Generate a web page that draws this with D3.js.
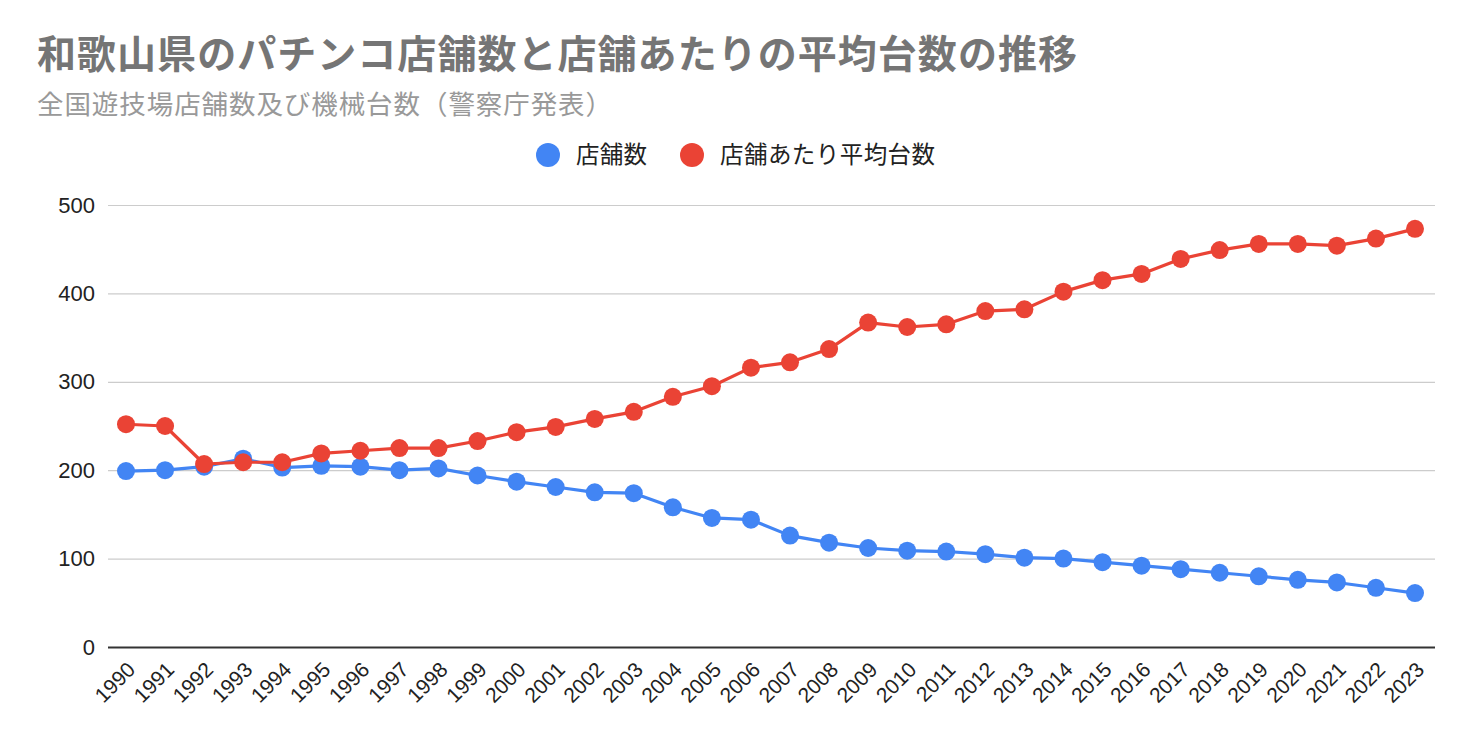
<!DOCTYPE html>
<html><head><meta charset="utf-8">
<script src="https://cdn.jsdelivr.net/npm/d3@7"></script>
<style>body{margin:0;background:#fff}svg{display:block}</style>
</head><body>
<svg id="c" width="1472" height="742"></svg>
<script>
const years = [1990,1991,1992,1993,1994,1995,1996,1997,1998,1999,2000,2001,2002,2003,2004,2005,2006,2007,2008,2009,2010,2011,2012,2013,2014,2015,2016,2017,2018,2019,2020,2021,2022,2023];
const stores = [199,200,204,213,203,205,204,200,202,194,187,181,175,174,158,146,144,126,118,112,109,108,105,101,100,96,92,88,84,80,76,73,67,61];
const avgMachines = [252,250,207,209,209,219,222,225,225,233,243,249,258,266,283,295,316,322,337,367,362,365,380,382,402,415,422,439,449,456,456,454,462,473];
const yTicks = [0,100,200,300,400,500];
const seriesNames = ["店舗数","店舗あたり平均台数"];
const colors = ["#4285F4","#EA4335"];
const titleText = "和歌山県のパチンコ店舗数と店舗あたりの平均台数の推移";
const subtitleText = "全国遊技場店舗数及び機械台数（警察庁発表）";

const svg = d3.select("#c");
const cjk = "'Noto Sans CJK JP','Noto Sans',sans-serif";
const latin = "'Liberation Sans',Arial,sans-serif";

const x = d3.scalePoint().domain(years).range([126,1415]);
const y = d3.scaleLinear().domain([0,500]).range([647,205]);

svg.append("text").attr("x",37).attr("y",68).text(titleText)
  .attr("font-family",cjk).attr("font-weight","bold").attr("font-size",39)
  .attr("textLength",1040).attr("fill","#757575");
svg.append("text").attr("x",37).attr("y",114).text(subtitleText)
  .attr("font-family",cjk).attr("font-size",26.5).attr("textLength",575).attr("fill","#999999");

// legend
const legend = [{n:seriesNames[0],c:colors[0],cx:548,tx:576,tl:71},{n:seriesNames[1],c:colors[1],cx:692,tx:720,tl:215}];
legend.forEach(d=>{
  svg.append("circle").attr("cx",d.cx).attr("cy",155).attr("r",12).attr("fill",d.c);
  svg.append("text").attr("x",d.tx).attr("y",163).text(d.n).attr("font-family",cjk)
    .attr("font-size",23.5).attr("textLength",d.tl).attr("fill","#222");
});

// grid + y axis
const yAxis = d3.axisLeft(y).tickValues(yTicks).tickSize(-(1435-108)).tickPadding(13).tickFormat(d3.format("d"));
const gy = svg.append("g").attr("transform","translate(108,0)").call(yAxis);
gy.select(".domain").remove();
gy.selectAll(".tick line").attr("stroke",d=>d===0?"#333":"#cccccc").attr("stroke-width",d=>d===0?2:1.2);
gy.selectAll(".tick text").attr("font-family",latin).attr("font-size",22).attr("fill","#222");

// x axis labels
const xAxis = d3.axisBottom(x).tickSize(0).tickPadding(0);
const gx = svg.append("g").attr("transform","translate(0,647)").attr("font-size",21).call(xAxis);
gx.select(".domain").remove();
gx.selectAll(".tick text").attr("font-family",latin).attr("font-size",21).attr("fill","#222")
  .attr("text-anchor","end").attr("dy",0).attr("y",0)
  .attr("transform","translate(10,24) rotate(-45)");

const line = d3.line().x((d,i)=>x(years[i])).y(d=>y(d));
[stores,avgMachines].forEach((s,k)=>{
  svg.append("path").datum(s).attr("d",line).attr("fill","none").attr("stroke",colors[k]).attr("stroke-width",3.2).attr("stroke-linejoin","round");
  svg.append("g").selectAll("circle").data(s).join("circle")
    .attr("cx",(d,i)=>x(years[i])).attr("cy",d=>y(d)).attr("r",9).attr("fill",colors[k]);
});
</script>
</body></html>
